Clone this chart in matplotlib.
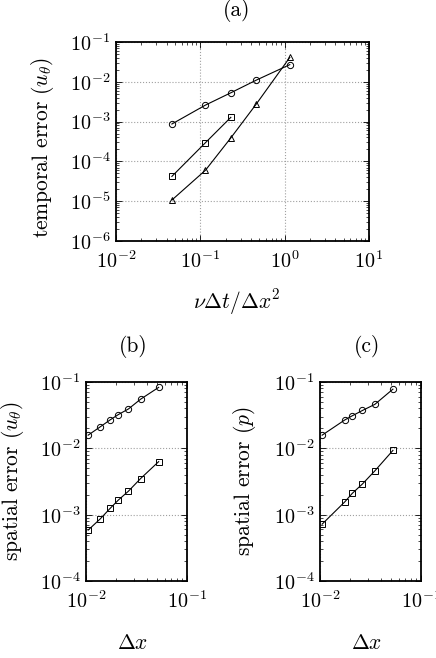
import numpy as np
import matplotlib
matplotlib.use("Agg")
import matplotlib.pyplot as plt
from matplotlib.ticker import LogLocator, NullFormatter

plt.rcParams["font.family"] = "serif"
plt.rcParams["font.serif"] = ["cmr10", "DejaVu Serif"]
plt.rcParams["mathtext.fontset"] = "cm"
plt.rcParams["axes.formatter.use_mathtext"] = True

# ── (a) error temporal ─────────────────────────────────────────────────────
dt_circ = [0.046, 0.115, 0.23, 0.46, 1.15]
err_circ = [8.7e-4, 2.6e-3, 5.3e-3, 1.1e-2, 2.7e-2]
dt_sq = [0.046, 0.115, 0.23]
err_sq = [4.2e-5, 2.95e-4, 1.28e-3]
dt_tri = [0.046, 0.115, 0.23, 0.46, 1.15]
err_tri = [1.07e-5, 6.0e-5, 3.9e-4, 2.75e-3, 4.1e-2]

# ── (b) error espacial u_theta ─────────────────────────────────────────────
dx_b = [0.0105, 0.0139, 0.0173, 0.0209, 0.0263, 0.0347, 0.0524]
eb_circ = [0.0158, 0.0212, 0.0268, 0.0323, 0.0392, 0.055, 0.083]
eb_sq = [5.85e-4, 8.7e-4, 1.24e-3, 1.66e-3, 2.26e-3, 3.5e-3, 6.3e-3]

# ── (c) error espacial p ───────────────────────────────────────────────────
dx_c = [0.0105, 0.0176, 0.0209, 0.0263, 0.0349, 0.0527]
ec_circ = [0.0158, 0.0268, 0.031, 0.0372, 0.046, 0.078]
ec_sq = [7.2e-4, 1.56e-3, 2.1e-3, 2.9e-3, 4.57e-3, 9.3e-3]

W, H = 436, 658
fig = plt.figure(figsize=(W / 100, H / 100), dpi=100)


def px_axes(l, t, r, b):
    return fig.add_axes([l / W, 1 - b / H, (r - l) / W, (b - t) / H])


def estilo(ax):
    ax.set_xscale("log")
    ax.set_yscale("log")
    ax.tick_params(which="both", direction="in", top=True, right=True,
                   labelsize=14.5)
    ax.tick_params(axis="x", which="major", pad=6.5)
    ax.tick_params(axis="y", which="major", pad=4)
    ax.tick_params(which="major", length=4, width=0.6)
    ax.tick_params(which="minor", length=2, width=0.5)
    for axis in (ax.xaxis, ax.yaxis):
        axis.set_major_locator(LogLocator(base=10, numticks=20))
        axis.set_minor_locator(LogLocator(base=10, subs=np.arange(2, 10), numticks=20))
        axis.set_minor_formatter(NullFormatter())
    ax.grid(True, which="major", linestyle=":", color="#a0a0a0", linewidth=0.8)
    for s in ax.spines.values():
        s.set_linewidth(1.3)


kw = dict(color="black", linewidth=0.8, markersize=4.5,
          markerfacecolor="none", markeredgewidth=0.7)

# Panel (a)
ax_a = px_axes(116, 42, 369, 241)
estilo(ax_a)
ax_a.plot(dt_circ, err_circ, marker="o", **kw)
ax_a.plot(dt_sq, err_sq, marker="s", **kw)
ax_a.plot(dt_tri, err_tri, marker="^", **kw)
ax_a.set_xlim(1e-2, 1e1)
ax_a.set_ylim(1e-6, 1e-1)
ax_a.set_xlabel(r"$\nu\Delta t/\Delta x^2$", fontsize=15.5, va="center")
ax_a.xaxis.set_label_coords((237 - 116) / 253, (241 - 302) / 199)
ax_a.set_ylabel(r"temporal error ($u_\theta$)", fontsize=15.5, va="center")
ax_a.yaxis.set_label_coords((42 - 116) / 253, 0.47)
fig.text(237 / W, 1 - 11 / H, "(a)", ha="center", va="center", fontsize=15.5)

# Panel (b)
ax_b = px_axes(86, 382, 187, 581)
estilo(ax_b)
ax_b.plot(dx_b, eb_circ, marker="o", **kw)
ax_b.plot(dx_b, eb_sq, marker="s", **kw)
ax_b.set_xlim(1e-2, 1e-1)
ax_b.set_ylim(1e-4, 1e-1)
ax_b.set_xlabel(r"$\Delta x$", fontsize=15.5, va="center")
ax_b.xaxis.set_label_coords((133 - 86) / 101, (581 - 643) / 199)
ax_b.set_ylabel(r"spatial error ($u_\theta$)", fontsize=15.5, va="center")
ax_b.yaxis.set_label_coords((13 - 86) / 101, 0.5)
fig.text(133 / W, 1 - 346 / H, "(b)", ha="center", va="center", fontsize=15.5)

# Panel (c)
ax_c = px_axes(320, 382, 421, 581)
estilo(ax_c)
ax_c.plot(dx_c, ec_circ, marker="o", **kw)
ax_c.plot(dx_c, ec_sq, marker="s", **kw)
ax_c.set_xlim(1e-2, 1e-1)
ax_c.set_ylim(1e-4, 1e-1)
ax_c.set_xlabel(r"$\Delta x$", fontsize=15.5, va="center")
ax_c.xaxis.set_label_coords((367 - 320) / 101, (581 - 643) / 199)
ax_c.set_ylabel(r"spatial error ($p$)", fontsize=15.5, va="center")
ax_c.yaxis.set_label_coords((244 - 320) / 101, 0.5)
fig.text(367 / W, 1 - 346 / H, "(c)", ha="center", va="center", fontsize=15.5)

fig.savefig("out.png", dpi=100, facecolor="white")
